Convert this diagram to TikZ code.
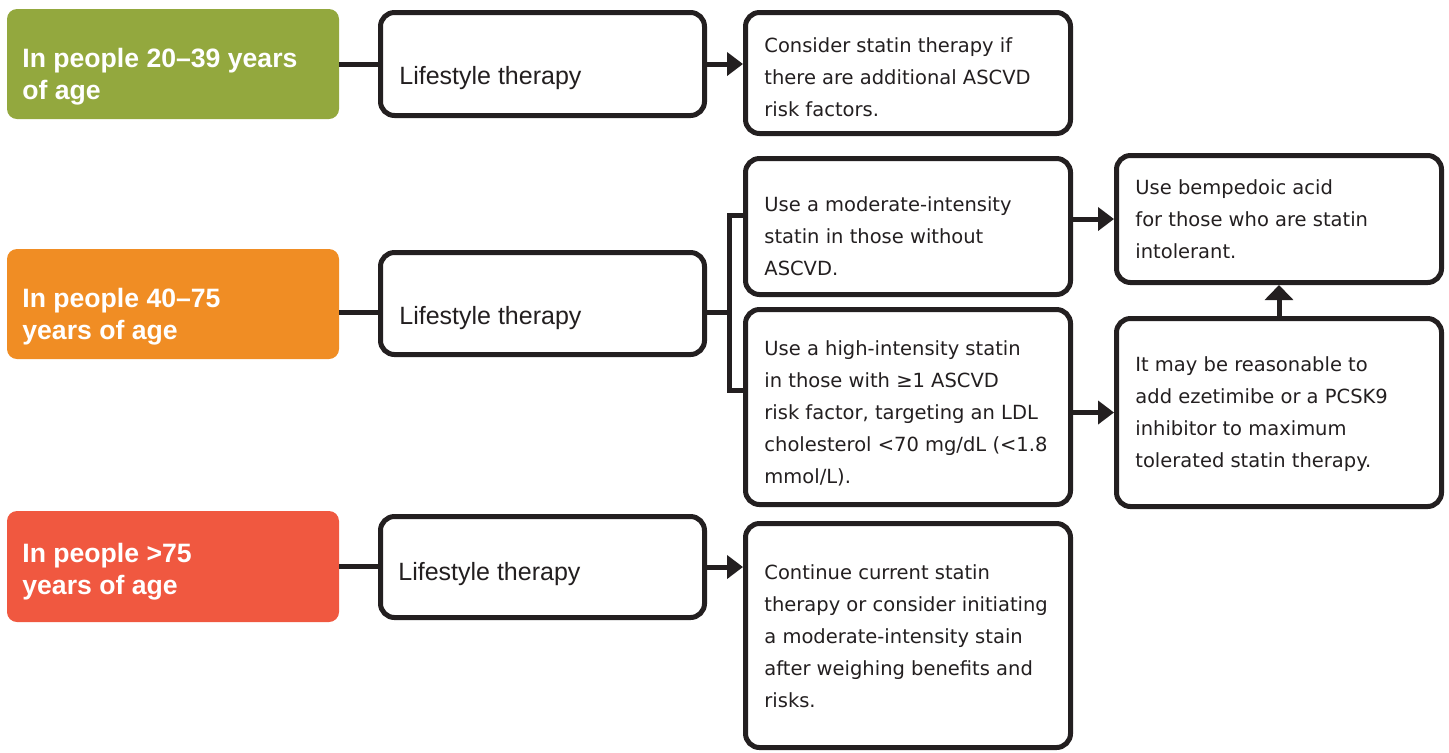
\documentclass[tikz,border=0pt]{standalone}
\usepackage{fontspec}
\setmainfont{DejaVu Sans}
\newfontfamily\headfont{Liberation Sans}
\usetikzlibrary{arrows.meta}
\definecolor{ink}{RGB}{35,31,32}
\definecolor{cgreen}{RGB}{147,168,62}
\definecolor{corange}{RGB}{240,141,36}
\definecolor{cred}{RGB}{240,88,64}
\tikzset{
  agebox/.style={rounded corners=5pt, inner sep=0pt, minimum width=166pt},
  wbox/.style={draw=ink, line width=2.5pt, rounded corners=7pt, fill=white, inner sep=0pt},
  lsbox/.style={wbox, minimum width=162pt},
  tbox/.style={wbox, minimum width=162.5pt},
  headtxt/.style={anchor=base west, inner sep=0pt, align=left, text=white, font=\headfont\bfseries\fontsize{13.3pt}{16pt}\selectfont},
  lstxt/.style={anchor=base west, inner sep=0pt, text=ink, font=\headfont\fontsize{12.5pt}{15pt}\selectfont},
  bodytxt/.style={anchor=base west, inner sep=0pt, align=left, text=ink, font=\fontsize{9.75pt}{16pt}\selectfont},
  conn/.style={draw=ink, line width=2.5pt},
  arr/.style={conn, -{Triangle[length=8pt,width=11.5pt]}},
  uparr/.style={conn, -{Triangle[length=7.5pt,width=14pt]}},
}
\begin{document}
\begin{tikzpicture}[x=0.5pt,y=-0.5pt]
\useasboundingbox (0,0) rectangle (1449,752);
% age boxes
\node[agebox, fill=cgreen, minimum height=55pt] (g) at (173,64) {};
\node[agebox, fill=corange, minimum height=55pt] (o) at (173,304) {};
\node[agebox, fill=cred, minimum height=55.5pt] (r) at (173,566.5) {};
\node[headtxt] (gt) at (22,99) {In people 20–39 years\\of age};
\node[headtxt] (ot) at (22,339) {In people 40–75\\years of age};
\node[headtxt] (rt) at (22,594) {In people >75\\years of age};
% lifestyle boxes
\node[lsbox, minimum height=51.5pt] (lg) at (542.5,64) {};
\node[lsbox, minimum height=51pt] (lo) at (542.5,303.5) {};
\node[lsbox, minimum height=50.5pt] (lr) at (542.5,567) {};
\node[lstxt] (lgt) at (399,84) {Lifestyle therapy};
\node[lstxt] (lot) at (399,324) {Lifestyle therapy};
\node[lstxt] (lrt) at (398,580) {Lifestyle therapy};
% text boxes
\node[tbox, minimum height=60.5pt] (A) at (908,73) {};
\node[tbox, minimum height=68pt] (B) at (908,226.5) {};
\node[tbox, minimum height=97.5pt] (C) at (908,407) {};
\node[tbox, minimum height=63.5pt] (D) at (1279,219) {};
\node[tbox, minimum height=94pt] (E) at (1279,412.5) {};
\node[tbox, minimum height=112pt] (F) at (908,635.5) {};
\node[bodytxt] (At) at (764,116) {Consider statin therapy if\\there are additional ASCVD\\risk factors.};
\node[bodytxt] (Bt) at (764,275) {Use a moderate-intensity\\statin in those without\\ASCVD.};
\node[bodytxt] (Ct) at (764,483) {Use a high-intensity statin\\in those with ≥1 ASCVD\\risk factor, targeting an LDL\\cholesterol <70 mg/dL (<1.8\\mmol/L).};
\node[bodytxt] (Dt) at (1135,258) {Use bempedoic acid\\for those who are statin\\intolerant.};
\node[bodytxt] (Et) at (1135,467) {It may be reasonable to\\add ezetimibe or a PCSK9\\inhibitor to maximum\\tolerated statin therapy.};
\node[bodytxt] (Ft) at (764,707) {Continue current statin\\therapy or consider initiating\\a moderate-intensity stain\\after weighing benefits and\\risks.};
% helper coordinates
\coordinate (ym) at (0,312);
\coordinate (brT) at (729,215);
\coordinate (brB) at (729,390);
% connectors
\draw[conn] (g.east) -- (lg.west);
\draw[arr] (lg.east) -- (lg.east -| A.west);
\draw[conn] (o.east |- ym) -- (lo.west |- ym);
\draw[conn] (lo.east |- ym) -- (brT |- ym);
\draw[conn, line join=miter] (B.west |- brT) -- (brT) -- (brB) -- (C.west |- brB);
\draw[arr] (B.east |- D.west) -- (D.west);
\draw[arr] (C.east |- E.west) -- (E.west);
\draw[uparr] (E.north) -- (D.south);
\draw[conn] (r.east) -- (r.east -| lr.west);
\draw[arr] (lr.east) -- (lr.east -| F.west);
\end{tikzpicture}
\end{document}
